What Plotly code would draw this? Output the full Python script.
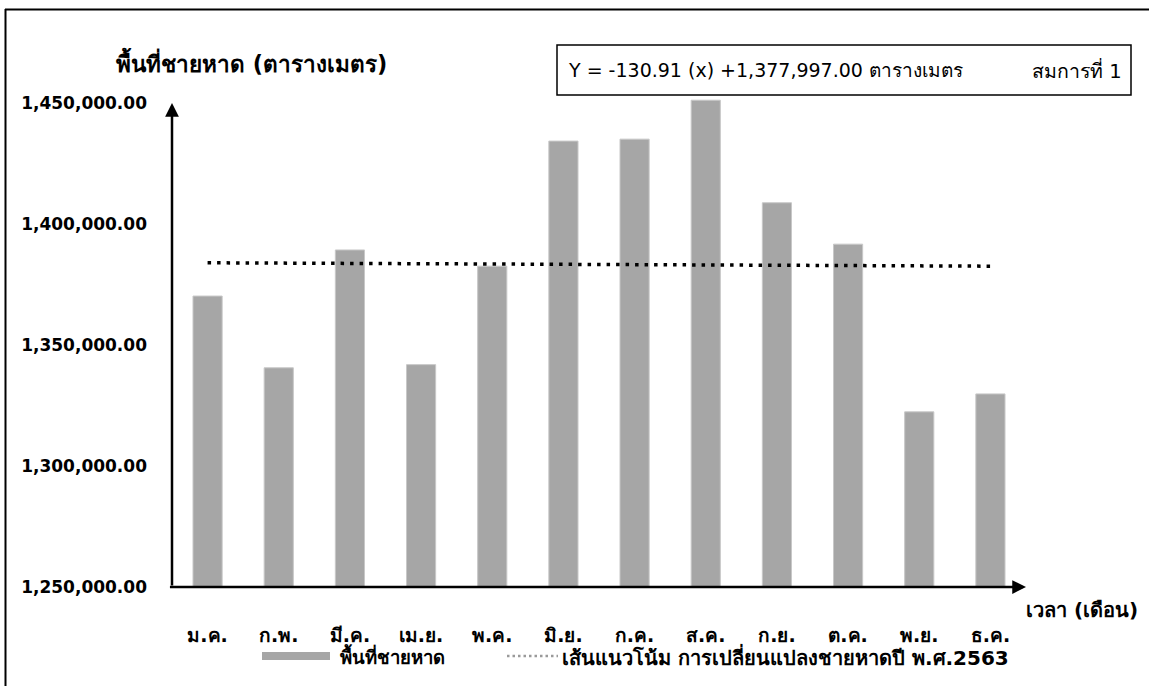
import plotly.graph_objects as go

months = ["ม.ค.", "ก.พ.", "มี.ค.", "เม.ย.", "พ.ค.", "มิ.ย.",
          "ก.ค.", "ส.ค.", "ก.ย.", "ต.ค.", "พ.ย.", "ธ.ค."]
beach_area = [1370250, 1340600, 1389300, 1341900, 1382600, 1434300,
              1435100, 1451200, 1408800, 1391700, 1322400, 1329800]
trend_months = ["ม.ค.", "ธ.ค."]
trend_values = [1384000, 1382600]
y_ticks = [1250000, 1300000, 1350000, 1400000, 1450000]

FONT = "Tahoma, 'DejaVu Sans', 'Noto Sans', sans-serif"
W, H = 1149, 686
L, R, T, B = 172, 1026, 91, 587


def px(x):
    return (x - L) / (R - L)


def py(y):
    return (B - y) / (B - T)


fig = go.Figure()
fig.add_trace(go.Bar(x=months, y=beach_area, name="พื้นที่ชายหาด",
                     marker=dict(color="#A6A6A6", line=dict(color="#C8C8C8", width=1)),
                     width=0.41, showlegend=False))
fig.add_trace(go.Scatter(x=trend_months, y=trend_values, mode="lines",
                         name="เส้นแนวโน้ม การเปลี่ยนแปลงชายหาดปี พ.ศ.2563",
                         line=dict(color="black", width=3.5, dash="3.5px,6px"),
                         showlegend=False))

shapes = [
    # outer frame (top and left)
    dict(type="line", xref="paper", yref="paper", x0=px(5), x1=px(1152), y0=py(9.5), y1=py(9.5),
         line=dict(color="black", width=2)),
    dict(type="line", xref="paper", yref="paper", x0=px(5.5), x1=px(5.5), y0=py(9), y1=py(690),
         line=dict(color="black", width=2)),
    # equation box
    dict(type="rect", xref="paper", yref="paper", x0=px(557), x1=px(1131), y0=py(95), y1=py(45),
         line=dict(color="black", width=1.5), fillcolor="white"),
    # legend marks
    dict(type="rect", xref="paper", yref="paper", x0=px(262), x1=px(330), y0=py(660), y1=py(652),
         line=dict(width=0), fillcolor="#A6A6A6"),
    dict(type="line", xref="paper", yref="paper", x0=px(507), x1=px(558), y0=py(656), y1=py(656),
         line=dict(color="#9A9A9A", width=2.5, dash="2.5px,3px")),
]

ann = []
# axis arrows
ann.append(dict(x=-0.5, y=1450000, ax=-0.5, ay=1250000, xref="x", yref="y", axref="x", ayref="y",
                text="", showarrow=True, arrowhead=2, arrowsize=1.1, arrowwidth=2.5,
                arrowcolor="black", standoff=0, startstandoff=0))
ann.append(dict(x=11.5, y=1250000, ax=-0.55, ay=1250000, xref="x", yref="y", axref="x", ayref="y",
                text="", showarrow=True, arrowhead=2, arrowsize=1.1, arrowwidth=2.5,
                arrowcolor="black", standoff=0, startstandoff=0))


def bold(s):
    return dict(family=FONT, size=s, color="black", weight="bold")


def reg(s):
    return dict(family=FONT, size=s, color="black")


ann.append(dict(x=px(251), y=py(62), xref="paper", yref="paper", text="พื้นที่ชายหาด (ตารางเมตร)",
                showarrow=False, font=bold(22.5), xanchor="center", yanchor="middle"))
ann.append(dict(x=px(1140), y=py(610), xref="paper", yref="paper", text="เวลา (เดือน)",
                showarrow=False, font=bold(20), xanchor="right", yanchor="middle"))
ann.append(dict(x=px(566), y=py(70), xref="paper", yref="paper",
                text="Y = -130.91 (x) +1,377,997.00 ตารางเมตร",
                showarrow=False, font=reg(19), xanchor="left", yanchor="middle"))
ann.append(dict(x=px(1124), y=py(70), xref="paper", yref="paper", text="สมการที่ 1",
                showarrow=False, font=reg(19.5), xanchor="right", yanchor="middle"))
ann.append(dict(x=px(338), y=py(656), xref="paper", yref="paper", text="พื้นที่ชายหาด",
                showarrow=False, font=bold(18.5), xanchor="left", yanchor="middle"))
ann.append(dict(x=px(560), y=py(656), xref="paper", yref="paper",
                text="เส้นแนวโน้ม การเปลี่ยนแปลงชายหาดปี พ.ศ.2563",
                showarrow=False, font=bold(20), xanchor="left", yanchor="middle"))

fig.update_layout(
    width=W, height=H, autosize=False,
    margin=dict(l=L, r=W - R, t=T, b=H - B, pad=0),
    paper_bgcolor="white", plot_bgcolor="white",
    font=dict(family=FONT, color="black"),
    shapes=shapes, annotations=ann, showlegend=False,
    bargap=0.59,
    xaxis=dict(type="category", range=[-0.5, 11.5], showline=False, showgrid=False,
               zeroline=False, ticks="", ticklabelstandoff=35,
               tickfont=bold(19)),
    yaxis=dict(range=[1250000, 1455000], tickvals=y_ticks, tickformat=",.2f",
               showline=False, showgrid=False, zeroline=False, ticks="",
               ticklabelstandoff=24,
               tickfont=bold(17)),
)

fig.write_html("out.html", config={"displayModeBar": False},
               post_script="document.body.style.margin='0px';")
